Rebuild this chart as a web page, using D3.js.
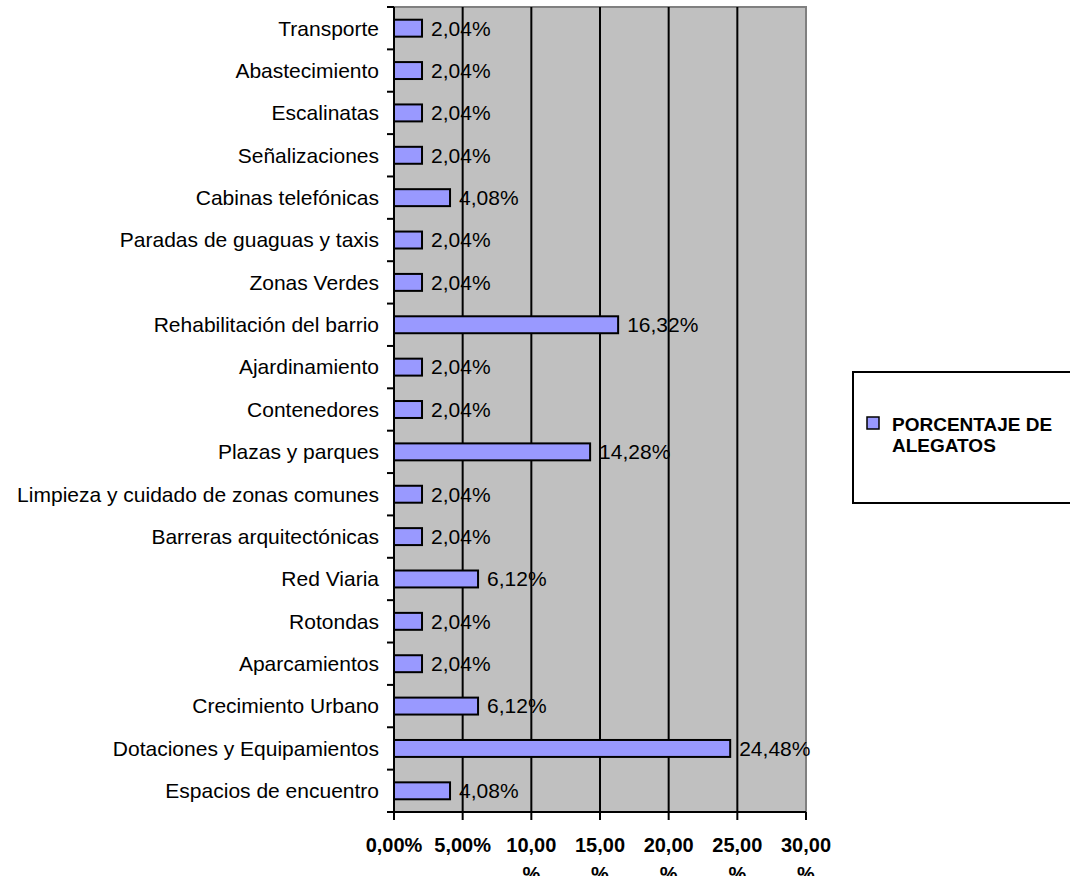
<!DOCTYPE html>
<html>
<head>
<meta charset="utf-8">
<script src="https://cdn.jsdelivr.net/npm/d3@7"></script>
<style>
  body { margin: 0; background: #fff; }
  svg { display: block; font-family: "Liberation Sans", Arial, sans-serif; }
</style>
</head>
<body>
<script>
// categories top to bottom, as shown
var categories = [
  "Transporte", "Abastecimiento", "Escalinatas", "Señalizaciones",
  "Cabinas telefónicas", "Paradas de guaguas y taxis", "Zonas Verdes",
  "Rehabilitación del barrio", "Ajardinamiento", "Contenedores",
  "Plazas y parques", "Limpieza y cuidado de zonas comunes",
  "Barreras arquitectónicas", "Red Viaria", "Rotondas", "Aparcamientos",
  "Crecimiento Urbano", "Dotaciones y Equipamientos", "Espacios de encuentro"
];
var values = [
  2.04, 2.04, 2.04, 2.04, 4.08, 2.04, 2.04, 16.32, 2.04, 2.04,
  14.28, 2.04, 2.04, 6.12, 2.04, 2.04, 6.12, 24.48, 4.08
];
var ticks = [0, 5, 10, 15, 20, 25, 30];
var seriesName = ["PORCENTAJE DE", "ALEGATOS"];

var width = 1070;
var height = 876;
var margin = {top: 7, right: 264, bottom: 64, left: 394};

var svg = d3.select("body")
  .append("svg")
  .attr("width", width)
  .attr("height", height);

var g = svg.append("g")
  .attr("transform", "translate(" + margin.left + "," + margin.top + ")");

var w = width - margin.left - margin.right;
var h = height - margin.top - margin.bottom;

var x = d3.scaleLinear().domain([0, 30]).range([0, w]);
var y = d3.scaleBand().domain(categories).range([0, h]).paddingInner(0.6).paddingOuter(0.3);
var yb = d3.scaleBand().domain(categories).range([0, h]);

function fmt(v) {
  return v.toFixed(2).replace(".", ",") + "%";
}

// plot background
g.append("rect")
  .attr("width", w)
  .attr("height", h)
  .attr("fill", "#c0c0c0");

g.append("path")
  .attr("d", "M0,0H" + w + "V" + h)
  .attr("fill", "none")
  .attr("stroke", "#808080")
  .attr("stroke-width", 2);

// gridlines
g.selectAll(".grid")
  .data(ticks.slice(1, -1))
  .enter()
  .append("line")
  .attr("x1", function(d) { return x(d); })
  .attr("x2", function(d) { return x(d); })
  .attr("y1", 0)
  .attr("y2", h)
  .attr("stroke", "#000")
  .attr("stroke-width", 2);

// bars
g.selectAll(".bar")
  .data(values)
  .enter()
  .append("rect")
  .attr("x", 0)
  .attr("y", function(d, i) { return y(categories[i]); })
  .attr("width", function(d) { return x(d); })
  .attr("height", y.bandwidth())
  .attr("fill", "#9999ff")
  .attr("stroke", "#000")
  .attr("stroke-width", 2);

g.selectAll(".lbl")
  .data(values)
  .enter()
  .append("text")
  .attr("x", function(d) { return x(d) + 9; })
  .attr("y", function(d, i) { return y(categories[i]) + y.bandwidth() / 2; })
  .attr("dy", "0.35em")
  .style("font-size", "21px")
  .attr("fill", "#000")
  .text(fmt);

// left axis
g.append("line")
  .attr("x1", 0).attr("x2", 0)
  .attr("y1", 0).attr("y2", h)
  .attr("stroke", "#000").attr("stroke-width", 2);

g.selectAll(".ytick")
  .data(d3.range(categories.length + 1))
  .enter()
  .append("line")
  .attr("x1", -7).attr("x2", 0)
  .attr("y1", function(i) { return i * yb.step(); })
  .attr("y2", function(i) { return i * yb.step(); })
  .attr("stroke", "#000").attr("stroke-width", 2);

g.selectAll(".ycat")
  .data(categories)
  .enter()
  .append("text")
  .attr("x", -15)
  .attr("y", function(d) { return yb(d) + yb.bandwidth() / 2; })
  .attr("dy", "0.35em")
  .attr("text-anchor", "end")
  .style("font-size", "21px")
  .attr("fill", "#000")
  .text(function(d) { return d; });

// bottom axis
g.append("line")
  .attr("x1", -7).attr("x2", w)
  .attr("y1", h).attr("y2", h)
  .attr("stroke", "#000").attr("stroke-width", 2);

g.selectAll(".xtick")
  .data(ticks)
  .enter()
  .append("line")
  .attr("x1", function(d) { return x(d); })
  .attr("x2", function(d) { return x(d); })
  .attr("y1", h).attr("y2", h + 8)
  .attr("stroke", "#000").attr("stroke-width", 2);

var xl = g.selectAll(".xlab")
  .data(ticks)
  .enter()
  .append("text")
  .attr("text-anchor", "middle")
  .style("font-size", "20px")
  .style("font-weight", "bold")
  .attr("fill", "#000");

xl.append("tspan")
  .attr("x", function(d) { return x(d); })
  .attr("y", h + 40)
  .text(function(d) { return d < 10 ? fmt(d) : d.toFixed(2).replace(".", ","); });

xl.filter(function(d) { return d >= 10; })
  .append("tspan")
  .attr("x", function(d) { return x(d); })
  .attr("y", h + 69)
  .text("%");

// legend
var lg = svg.append("g")
  .attr("transform", "translate(853,372)");

lg.append("rect")
  .attr("width", 240)
  .attr("height", 131)
  .attr("fill", "#fff")
  .attr("stroke", "#000")
  .attr("stroke-width", 2);

lg.append("rect")
  .attr("x", 14)
  .attr("y", 45)
  .attr("width", 12)
  .attr("height", 12)
  .attr("fill", "#9999ff")
  .attr("stroke", "#000")
  .attr("stroke-width", 1.5);

lg.append("text")
  .style("font-size", "19px")
  .style("font-weight", "bold")
  .attr("fill", "#000")
  .selectAll("tspan")
  .data(seriesName)
  .enter()
  .append("tspan")
  .attr("x", 39)
  .attr("y", function(d, i) { return 59 + i * 21; })
  .text(function(d) { return d; });
</script>
</body>
</html>
